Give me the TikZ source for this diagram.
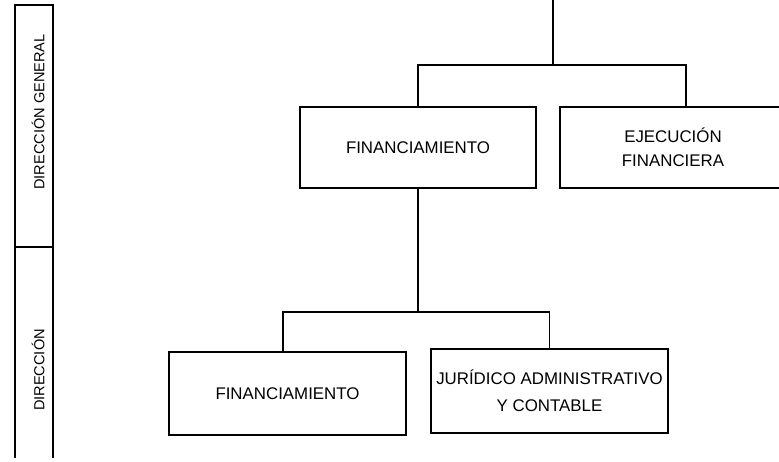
\documentclass[tikz,border=0pt]{standalone}
\usepackage{fontspec}
\setmainfont{Liberation Sans}
\begin{document}
\begin{tikzpicture}[x=0.02cm,y=-0.02cm,line cap=butt,line join=miter,
		font=\fontsize{9.6}{13.5}\selectfont]
	\tikzset{unitbox/.style={draw,line width=1.1pt,inner sep=0pt,align=center,
			minimum width=4.74cm,minimum height=1.64cm},
		link/.style={line width=1.1pt},
		levelname/.style={rotate=90,font=\fontsize{8.3}{10}\selectfont}
	}
	\useasboundingbox (0,0) rectangle (779,462);
	\clip (0,0) rectangle (779,462);
	% columna de niveles
	\draw[link] (15,458)--(15,5)--(53,5)--(53,458);
	\draw[link] (15,247)--(53,247);
	\node[levelname] (lvlgen) at (38,112) {DIRECCIÓN GENERAL};
	\node[levelname] (lvldir) at (38,370) {DIRECCIÓN};
	% cajas
	\node[unitbox,minimum width=4.72cm,minimum height=1.62cm] (fin1) at (418,147.5) {FINANCIAMIENTO};
	\node[unitbox,minimum width=4.52cm,minimum height=1.62cm] (eje) at (673,147.5) {EJECUCIÓN\\FINANCIERA};
	\node[unitbox,minimum height=1.66cm] (fin2) at (287.5,393.5) {FINANCIAMIENTO};
	\node[unitbox,minimum height=1.68cm] (jur) at (549.5,391) {JURÍDICO ADMINISTRATIVO\\[2pt]Y CONTABLE};
	% conectores
	\coordinate (root) at (553,0);
	\coordinate (split) at (553,65);
	\coordinate (ejein) at ([xshift=0.26cm]eje.north);
	\coordinate (split2) at (418,312);
	\coordinate (fin2in) at ([xshift=-0.09cm]fin2.north);
	\draw[link] (root)--(split);
	\draw[link] (fin1.north) |- (split) -| (ejein);
	\draw[link] (fin1.south)--(split2);
	\draw[link] (fin2in) |- (split2) -| (jur.north);
\end{tikzpicture}
\end{document}
